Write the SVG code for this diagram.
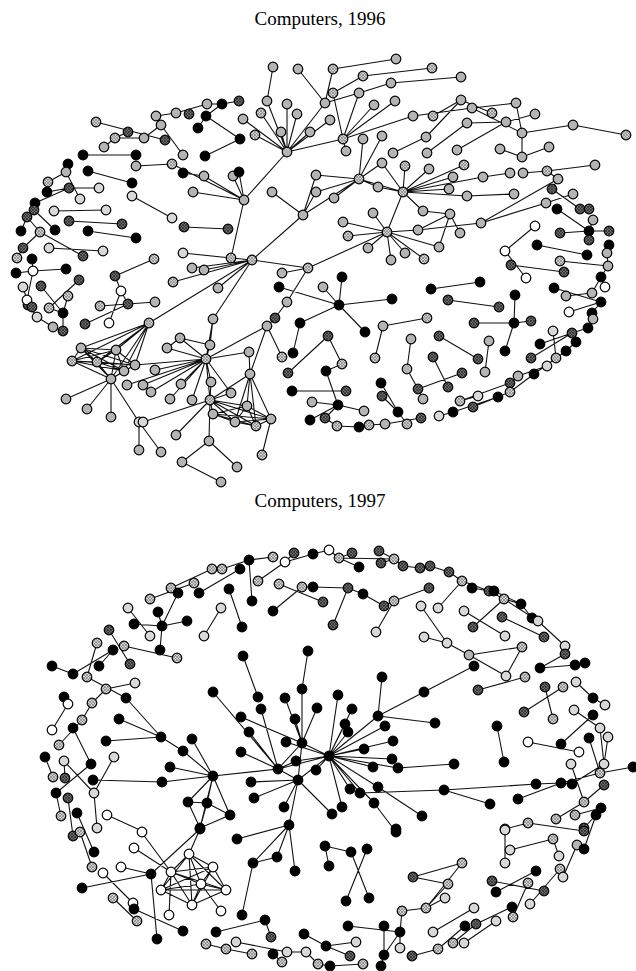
<svg xmlns="http://www.w3.org/2000/svg" width="636" height="971" viewBox="0 0 636 971">
<defs>
<pattern id="ph" width="3" height="3" patternUnits="userSpaceOnUse"><rect width="3" height="3" fill="#d2d2d2"/><path d="M0 3L3 0M0 0L3 3" stroke="#707070" stroke-width="0.6"/></pattern>
<pattern id="pd" width="3" height="3" patternUnits="userSpaceOnUse"><rect width="3" height="3" fill="#6a6a6a"/><path d="M0 3L3 0M0 0L3 3" stroke="#262626" stroke-width="0.7"/></pattern>
</defs>
<style>
circle{stroke:#000;stroke-width:1.2}
.g circle{fill:#b4b4b4}.h circle{fill:url(#ph)}.d circle{fill:url(#pd)}.k circle{fill:#000}.w circle{fill:#fff}.l circle{fill:#d8d8d8}
.e{fill:none;stroke:#111;stroke-width:1.1}
.t{font-family:"Liberation Serif","Times New Roman",serif;font-size:19px;fill:#000}
</style>
<rect width="636" height="971" fill="#fff"/>
<text class="t" x="320" y="25" text-anchor="middle">Computers, 1996</text>
<text class="t" x="320" y="507" text-anchor="middle">Computers, 1997</text>
<g id="connectors">
<path class="e" d="M273 67L267 101M267 101L287 152M298 69L325 103M333 69L325 103M333 69L396 59M325 103L287 152M325 103L359 93M333 93L363 76M363 76L432 68M333 93L343 139M359 93L391 83M391 83L461 77M359 93L343 139M287 152L243 119M287 152L261 113M287 152L255 135M287 152L281 132M287 152L287 104M287 152L297 114M287 152L310 132M287 152L330 120M287 152L343 139M343 139L374 105M343 139L395 101M343 139L413 116M343 139L346 151M413 116L472 108M433 116L461 100M426 137L461 100M426 137L393 153M427 153L467 123M472 108L516 103M472 108L522 133M467 123L506 122M506 122L535 114M461 100L492 113M522 133L573 125M573 125L626 135M516 103L522 133M522 133L522 157M500 149L522 157M522 157L549 147M457 150L506 122M363 139L359 179M382 136L359 179M359 179L316 175M359 179L334 198M359 179L382 163M359 179L378 187M359 179L403 192M359 179L316 192M359 179L303 215M303 215L252 260M303 215L272 192M303 215L316 175M303 215L316 192M403 192L405 166M403 192L429 169M403 192L464 165M403 192L453 177M403 192L449 189M403 192L467 196M403 192L378 187M403 192L423 211M403 192L387 232M403 192L483 177M403 192L382 163M483 177L510 173M523 173L547 171M547 171L595 165M547 171L558 179M558 179L552 189M552 189L580 209M580 209L589 209M467 196L514 194M481 223L546 203M546 203L573 194M418 230L481 223M481 223L558 179M387 232L343 222M387 232L348 236M387 232L368 248M387 232L391 260M387 232L405 253M387 232L424 259M387 232L373 213M387 232L418 230M387 232L439 247M387 232L308 268M423 211L450 214M450 214L439 247M450 214L460 233M418 230L450 214M535 226L505 251M505 251L526 278M511 265L564 272M537 245L587 255M560 233L589 231M589 231L609 231M589 231L593 220M589 240L589 231M557 209L589 231M609 245L607 253M607 253L608 266M608 266L601 277M560 261L608 266M554 288L601 302M566 296L592 293M592 293L601 277M569 312L601 302M601 302L592 313M592 313L593 319M593 319L588 328M588 328L572 333M572 333L540 344M572 333L531 358M553 331L556 358M547 366L518 376M518 376L510 383M510 383L460 401M498 397L453 412M473 407L510 392M510 392L534 374M534 374L566 351M566 351L576 342M439 416L453 412M339 305L392 299M339 305L365 332M339 305L342 277M339 305L323 287M339 305L300 323M300 323L293 353M275 318L287 302M275 318L267 326M328 336L342 364M342 364L326 371M326 371L338 405M338 405L364 411M338 405L325 418M338 405L312 402M288 373L328 336M310 420L338 405M292 391L346 391M381 383L398 412M382 396L398 412M398 412L407 424M325 418L337 426M337 426L359 427M359 427L369 425M369 425L385 424M385 424L421 418M383 326L427 318M383 326L375 358M411 339L407 369M407 369L418 389M418 389L462 373M418 389L423 399M433 357L448 387M439 336L478 359M489 341L485 372M474 323L514 323M514 323L531 321M514 323L505 351M514 323L515 295M448 300L499 307M431 289L480 282M279 287L339 305M308 268L282 273M308 268L287 302M252 260L308 268M96 122L165 140M156 116L176 113M176 113L207 104M207 104L222 104M222 104L239 101M222 104L206 116M206 116L240 139M161 125L156 116M161 125L183 155M161 125L144 138M144 138L115 138M128 132L115 138M115 138L104 147M83 155L136 155M240 139L205 156M68 164L66 172M66 172L80 199M66 172L48 182M69 188L99 188M69 188L35 203M88 171L132 183M34 210L55 230M54 211L106 210M69 221L122 224M88 231L136 238M40 232L83 256M40 232L23 248M49 248L103 251M16 273L33 271M33 271L66 269M33 271L27 300M41 286L63 313M79 280L49 308M68 296L63 313M132 196L172 218M184 227L228 229M154 259L115 276M115 276L121 291M121 291L128 304M100 306L128 304M128 304L155 302M85 324L128 304M109 323L121 291M183 253L231 258M231 258L244 200M231 258L252 260M252 260L192 268M252 260L204 270M252 260L173 282M252 260L218 288M252 260L213 319M252 260L149 323M244 200L287 152M244 200L193 192M244 200L204 176M244 200L233 176M244 200L172 164M183 173L204 176M136 166L172 164M28 305L37 317M37 317L53 327M49 308L63 313M149 323L111 379M149 323L81 348M149 323L72 361M149 323L97 362M149 323L116 350M149 323L135 365M149 323L124 371M81 348L72 361M81 348L97 362M81 348L116 350M81 348L135 365M81 348L124 371M72 361L97 362M72 361L116 350M72 361L135 365M72 361L124 371M97 362L116 350M97 362L135 365M97 362L124 371M116 350L135 365M116 350L124 371M135 365L124 371M111 379L81 348M111 379L72 361M111 379L97 362M111 379L116 350M111 379L135 365M111 379L124 371M111 379L66 399M111 379L87 409M111 379L111 417M111 379L139 422M139 422L139 450M139 422L161 452M143 422L210 400M206 359L213 319M206 359L180 338M206 359L167 348M206 359L210 345M206 359L155 370M206 359L127 385M206 359L143 385M206 359L151 392M206 359L181 384M206 359L192 400M206 359L170 399M206 359L211 382M206 359L210 400M206 359L231 393M206 359L249 352M206 359L267 326M206 359L135 365M213 319L210 345M180 338L210 345M167 348L180 338M210 400L211 382M210 400L176 435M210 400L209 441M210 400L250 374M210 400L213 414M210 400L235 422M210 400L256 426M210 400L271 419M210 400L247 406M210 400L231 393M213 414L235 422M213 414L256 426M213 414L271 419M213 414L247 406M235 422L256 426M235 422L271 419M235 422L247 406M256 426L271 419M256 426L247 406M271 419L247 406M250 374L267 326M250 374L249 352M250 374L271 419M250 374L247 406M250 374L256 426M250 374L235 422M271 419L262 455M209 441L182 462M209 441L237 467M182 462L221 482M267 326L282 357M47 192L69 188M27 217L40 232M21 231L27 217M17 258L23 248M32 259L33 271M23 287L27 300M32 307L27 300M63 331L63 313M198 128L206 116M239 172L244 200M605 287L601 277M478 396L460 401"/>
<path class="e" d="M212 569L171 588M194 583L150 599M222 569L249 560M249 560L273 557M240 569L199 593M249 560L252 601M285 562L258 581M285 562L313 554M294 553L285 562M313 554L329 550M229 589L242 627M279 584L323 602M302 587L273 611M302 587L313 587M178 593L162 626M134 624L162 626M162 626L187 621M162 626L160 650M158 612L162 626M128 608L150 636M221 608L204 636M109 630L130 664M124 646L177 658M97 643L87 677M113 650L73 674M52 666L73 674M243 656L258 697M308 651L302 689M329 550L339 558M339 558L394 559M379 551L394 559M381 563L394 559M352 553L339 558M339 558L359 567M394 559L403 566M403 566L420 568M420 568L430 566M430 566L449 572M449 572L462 581M462 581L489 591M489 591L504 599M494 591L521 604M504 599L521 604M504 599L538 621M538 621L565 646M521 604L532 618M565 646L565 654M565 654L540 668M540 668L575 665M575 665L585 663M462 581L438 608M504 599L473 627M464 611L505 636M502 617L544 637M313 587L348 588M348 588L363 594M363 594L384 606M384 606L394 601M394 601L429 588M348 588L333 625M394 601L376 632M421 606L447 643M424 637L447 643M447 643L469 655M469 655L522 647M469 655L506 676M522 647L506 676M474 666L424 692M68 704L52 730M106 689L135 683M92 703L106 689M87 677L126 698M126 698L161 737M119 719L161 737M106 741L161 737M161 737L183 751M183 751L213 776M192 739L213 776M170 767L213 776M162 782L213 776M93 780L162 782M213 776L188 802M213 776L207 803M213 776L230 815M213 776L200 828M213 776L278 769M188 802L207 803M207 803L230 815M188 802L200 828M207 803L200 828M200 828L230 815M92 703L82 720M82 720L59 745M73 728L91 764M64 761L94 793M91 764L56 793M114 757L94 793M45 757L53 777M56 793L61 816M94 793L97 828M107 815L142 831M68 798L73 836M77 813L94 852M213 692L278 769M241 717L302 743M249 732L278 769M295 719L302 743M241 752L278 769M251 782L298 780M254 798L298 780M289 825L298 780M284 807L298 780M285 698L302 743M302 689L302 743M317 708L302 743M286 742L329 756M261 709L278 769M278 769L298 780M278 769L302 743M298 780L302 743M302 743L329 756M298 780L329 756M278 769L329 756M316 770L329 756M296 761L329 756M296 761L278 769M329 756L352 709M329 756L345 724M329 756L348 732M329 756L364 749M329 756L385 726M329 756L393 741M329 756L392 759M329 756L373 767M329 756L398 768M329 756L378 787M329 756L350 789M329 756L360 793M329 756L342 807M329 756L374 803M329 756L338 695M329 756L378 716M378 716L424 692M378 716L382 677M378 716L435 723M398 768L454 764M360 793L444 790M444 790L536 784M536 784L561 783M561 783L572 784M561 783L600 773M600 773L633 767M572 784L604 764M444 790L490 804M518 799L561 783M497 726L504 762M528 742L579 752M561 744L593 715M574 710L600 728M545 687L553 719M524 712L563 687M593 698L576 682M593 698L605 705M600 728L604 764M589 738L600 773M571 764L584 802M584 802L604 785M601 808L596 815M556 819L584 802M596 815L584 849M505 830L505 863M528 823L584 831M553 839L559 856M553 839L510 850M577 845L563 877M560 869L530 904M536 871L496 892M492 881L544 891M528 883L513 917M512 907L476 924M496 921L464 943M474 908L433 932M412 956L438 949M438 949L465 926M453 943L476 924M402 911L426 908M426 908L445 898M413 877L462 863M413 877L448 884M462 863L426 908M448 884L426 908M402 911L400 932M400 932L400 948M348 926L400 932M384 926L384 955M400 932L384 955M325 846L351 852M351 852L369 898M367 849L346 901M326 946L356 942M330 966L363 964M396 832L374 803M289 825L237 839M289 825L253 863M289 825L277 857M289 825L295 871M253 863L277 857M253 863L242 915M216 932L265 920M265 920L271 937M206 944L226 949M226 949L252 954M236 942L287 952M287 952L306 952M273 954L282 962M80 832L92 867M142 833L171 872M134 848L171 872M121 867L151 874M151 874L200 829M151 874L157 939M82 888L151 874M103 873L133 903M133 903L134 909M134 909L183 931M113 898L137 921M200 829L189 854M189 854L171 872M189 854L213 867M189 854L201 884M189 854L161 890M189 854L226 890M189 854L192 905M171 872L213 867M171 872L201 884M171 872L161 890M171 872L226 890M171 872L192 905M213 867L201 884M213 867L161 890M213 867L226 890M213 867L192 905M201 884L161 890M201 884L226 890M201 884L192 905M161 890L226 890M161 890L192 905M226 890L192 905M171 872L169 915M201 884L221 911M64 697L68 704M65 778L64 761M99 666L113 650M472 588L489 591M478 690L525 677M608 737L604 764M575 815L601 808M584 828L596 815M505 829L528 823M381 966L384 955M350 956L326 946M318 964L330 966M304 934L326 946M306 952L318 964M329 866L325 846M422 816L378 787M332 814L298 780"/>
</g>
<g id="nodes96">
<g id="t1" class="g"><circle cx="273" cy="67" r="4.8"/></g>
<g id="t2" class="g"><circle cx="298" cy="69" r="4.8"/></g>
<g id="t3" class="h"><circle cx="333" cy="69" r="4.8"/></g>
<g id="t4" class="g"><circle cx="396" cy="59" r="4.8"/></g>
<g id="t5" class="h"><circle cx="432" cy="68" r="4.8"/></g>
<g id="t6" class="h"><circle cx="363" cy="76" r="4.8"/></g>
<g id="t7" class="h"><circle cx="333" cy="93" r="4.8"/></g>
<g id="t8" class="g"><circle cx="359" cy="93" r="4.8"/></g>
<g id="t9" class="g"><circle cx="391" cy="83" r="4.8"/></g>
<g id="t10" class="g"><circle cx="461" cy="77" r="4.8"/></g>
<g id="t11" class="g"><circle cx="325" cy="103" r="4.8"/></g>
<g id="t12" class="g"><circle cx="267" cy="101" r="4.8"/></g>
<g id="t13" class="g"><circle cx="287" cy="104" r="4.8"/></g>
<g id="t14" class="g"><circle cx="297" cy="114" r="4.8"/></g>
<g id="t15" class="h"><circle cx="261" cy="113" r="4.8"/></g>
<g id="t16" class="g"><circle cx="243" cy="119" r="4.8"/></g>
<g id="t17" class="h"><circle cx="255" cy="135" r="4.8"/></g>
<g id="t18" class="g"><circle cx="281" cy="132" r="4.8"/></g>
<g id="t19" class="g"><circle cx="310" cy="132" r="4.8"/></g>
<g id="t20" class="g"><circle cx="330" cy="120" r="4.8"/></g>
<g id="t21" class="g"><circle cx="287" cy="152" r="4.8"/></g>
<g id="t22" class="h"><circle cx="343" cy="139" r="4.8"/></g>
<g id="t23" class="g"><circle cx="374" cy="105" r="4.8"/></g>
<g id="t24" class="g"><circle cx="395" cy="101" r="4.8"/></g>
<g id="t25" class="g"><circle cx="413" cy="116" r="4.8"/></g>
<g id="t26" class="g"><circle cx="346" cy="151" r="4.8"/></g>
<g id="t27" class="g"><circle cx="363" cy="139" r="4.8"/></g>
<g id="t28" class="g"><circle cx="382" cy="136" r="4.8"/></g>
<g id="t29" class="h"><circle cx="433" cy="116" r="4.8"/></g>
<g id="t30" class="g"><circle cx="461" cy="100" r="4.8"/></g>
<g id="t31" class="g"><circle cx="472" cy="108" r="4.8"/></g>
<g id="t32" class="h"><circle cx="492" cy="113" r="4.8"/></g>
<g id="t33" class="g"><circle cx="516" cy="103" r="4.8"/></g>
<g id="t34" class="g"><circle cx="535" cy="114" r="4.8"/></g>
<g id="t35" class="g"><circle cx="522" cy="133" r="4.8"/></g>
<g id="t36" class="g"><circle cx="573" cy="125" r="4.8"/></g>
<g id="t37" class="h"><circle cx="626" cy="135" r="4.8"/></g>
<g id="t38" class="g"><circle cx="506" cy="122" r="4.8"/></g>
<g id="t39" class="g"><circle cx="467" cy="123" r="4.8"/></g>
<g id="t40" class="g"><circle cx="426" cy="137" r="4.8"/></g>
<g id="t41" class="g"><circle cx="457" cy="150" r="4.8"/></g>
<g id="t42" class="g"><circle cx="500" cy="149" r="4.8"/></g>
<g id="t43" class="g"><circle cx="522" cy="157" r="4.8"/></g>
<g id="t44" class="g"><circle cx="549" cy="147" r="4.8"/></g>
<g id="t45" class="g"><circle cx="393" cy="153" r="4.8"/></g>
<g id="t46" class="g"><circle cx="427" cy="153" r="4.8"/></g>
<g id="t47" class="g"><circle cx="382" cy="163" r="4.8"/></g>
<g id="t48" class="g"><circle cx="316" cy="175" r="4.8"/></g>
<g id="t49" class="h"><circle cx="359" cy="179" r="4.8"/></g>
<g id="t50" class="h"><circle cx="405" cy="166" r="4.8"/></g>
<g id="t51" class="g"><circle cx="429" cy="169" r="4.8"/></g>
<g id="t52" class="h"><circle cx="464" cy="165" r="4.8"/></g>
<g id="t53" class="g"><circle cx="453" cy="177" r="4.8"/></g>
<g id="t54" class="g"><circle cx="483" cy="177" r="4.8"/></g>
<g id="t55" class="g"><circle cx="510" cy="173" r="4.8"/></g>
<g id="t56" class="g"><circle cx="523" cy="173" r="4.8"/></g>
<g id="t57" class="h"><circle cx="547" cy="171" r="4.8"/></g>
<g id="t58" class="g"><circle cx="595" cy="165" r="4.8"/></g>
<g id="t59" class="g"><circle cx="558" cy="179" r="4.8"/></g>
<g id="t60" class="g"><circle cx="378" cy="187" r="4.8"/></g>
<g id="t61" class="h"><circle cx="403" cy="192" r="4.8"/></g>
<g id="t62" class="g"><circle cx="449" cy="189" r="4.8"/></g>
<g id="t63" class="g"><circle cx="467" cy="196" r="4.8"/></g>
<g id="t64" class="g"><circle cx="514" cy="194" r="4.8"/></g>
<g id="t65" class="g"><circle cx="573" cy="194" r="4.8"/></g>
<g id="t66" class="d"><circle cx="552" cy="189" r="4.8"/></g>
<g id="t67" class="g"><circle cx="334" cy="198" r="4.8"/></g>
<g id="t68" class="g"><circle cx="316" cy="192" r="4.8"/></g>
<g id="t69" class="g"><circle cx="373" cy="213" r="4.8"/></g>
<g id="t70" class="g"><circle cx="423" cy="211" r="4.8"/></g>
<g id="t71" class="g"><circle cx="450" cy="214" r="4.8"/></g>
<g id="t72" class="g"><circle cx="546" cy="203" r="4.8"/></g>
<g id="t73" class="k"><circle cx="557" cy="209" r="4.8"/></g>
<g id="t74" class="d"><circle cx="580" cy="209" r="4.8"/></g>
<g id="t75" class="d"><circle cx="589" cy="209" r="4.8"/></g>
<g id="t76" class="g"><circle cx="593" cy="220" r="4.8"/></g>
<g id="t77" class="g"><circle cx="343" cy="222" r="4.8"/></g>
<g id="t78" class="h"><circle cx="348" cy="236" r="4.8"/></g>
<g id="t79" class="h"><circle cx="387" cy="232" r="4.8"/></g>
<g id="t80" class="g"><circle cx="418" cy="230" r="4.8"/></g>
<g id="t81" class="g"><circle cx="460" cy="233" r="4.8"/></g>
<g id="t82" class="g"><circle cx="481" cy="223" r="4.8"/></g>
<g id="t83" class="g"><circle cx="368" cy="248" r="4.8"/></g>
<g id="t84" class="g"><circle cx="391" cy="260" r="4.8"/></g>
<g id="t85" class="g"><circle cx="405" cy="253" r="4.8"/></g>
<g id="t86" class="h"><circle cx="424" cy="259" r="4.8"/></g>
<g id="t87" class="g"><circle cx="439" cy="247" r="4.8"/></g>
<g id="t88" class="w"><circle cx="535" cy="226" r="4.8"/></g>
<g id="t89" class="w"><circle cx="505" cy="251" r="4.8"/></g>
<g id="t90" class="k"><circle cx="537" cy="245" r="4.8"/></g>
<g id="t91" class="k"><circle cx="587" cy="255" r="4.8"/></g>
<g id="t92" class="d"><circle cx="560" cy="233" r="4.8"/></g>
<g id="t93" class="k"><circle cx="589" cy="231" r="4.8"/></g>
<g id="t94" class="d"><circle cx="609" cy="231" r="4.8"/></g>
<g id="t95" class="d"><circle cx="589" cy="240" r="4.8"/></g>
<g id="t96" class="k"><circle cx="609" cy="245" r="4.8"/></g>
<g id="t97" class="g"><circle cx="607" cy="253" r="4.8"/></g>
<g id="t98" class="h"><circle cx="560" cy="261" r="4.8"/></g>
<g id="t99" class="d"><circle cx="564" cy="272" r="4.8"/></g>
<g id="t100" class="d"><circle cx="511" cy="265" r="4.8"/></g>
<g id="t101" class="w"><circle cx="526" cy="278" r="4.8"/></g>
<g id="t102" class="g"><circle cx="608" cy="266" r="4.8"/></g>
<g id="t103" class="k"><circle cx="601" cy="277" r="4.8"/></g>
<g id="t104" class="w"><circle cx="605" cy="287" r="4.8"/></g>
<g id="t105" class="k"><circle cx="554" cy="288" r="4.8"/></g>
<g id="t106" class="g"><circle cx="566" cy="296" r="4.8"/></g>
<g id="t107" class="g"><circle cx="592" cy="293" r="4.8"/></g>
<g id="t108" class="k"><circle cx="601" cy="302" r="4.8"/></g>
<g id="t109" class="w"><circle cx="569" cy="312" r="4.8"/></g>
<g id="t110" class="k"><circle cx="592" cy="313" r="4.8"/></g>
<g id="t111" class="g"><circle cx="593" cy="319" r="4.8"/></g>
<g id="t112" class="k"><circle cx="342" cy="277" r="4.8"/></g>
<g id="t113" class="g"><circle cx="323" cy="287" r="4.8"/></g>
<g id="t114" class="k"><circle cx="339" cy="305" r="4.8"/></g>
<g id="t115" class="k"><circle cx="392" cy="299" r="4.8"/></g>
<g id="t116" class="k"><circle cx="431" cy="289" r="4.8"/></g>
<g id="t117" class="k"><circle cx="480" cy="282" r="4.8"/></g>
<g id="t118" class="d"><circle cx="448" cy="300" r="4.8"/></g>
<g id="t119" class="d"><circle cx="499" cy="307" r="4.8"/></g>
<g id="t120" class="k"><circle cx="515" cy="295" r="4.8"/></g>
<g id="t121" class="h"><circle cx="427" cy="318" r="4.8"/></g>
<g id="t122" class="k"><circle cx="365" cy="332" r="4.8"/></g>
<g id="t123" class="d"><circle cx="328" cy="336" r="4.8"/></g>
<g id="t124" class="h"><circle cx="342" cy="364" r="4.8"/></g>
<g id="t125" class="k"><circle cx="326" cy="371" r="4.8"/></g>
<g id="t126" class="d"><circle cx="346" cy="391" r="4.8"/></g>
<g id="t127" class="k"><circle cx="338" cy="405" r="4.8"/></g>
<g id="t128" class="g"><circle cx="364" cy="411" r="4.8"/></g>
<g id="t129" class="d"><circle cx="325" cy="418" r="4.8"/></g>
<g id="t130" class="h"><circle cx="337" cy="426" r="4.8"/></g>
<g id="t131" class="k"><circle cx="359" cy="427" r="4.8"/></g>
<g id="t132" class="h"><circle cx="369" cy="425" r="4.8"/></g>
<g id="t133" class="g"><circle cx="385" cy="424" r="4.8"/></g>
<g id="t134" class="h"><circle cx="407" cy="424" r="4.8"/></g>
<g id="t135" class="d"><circle cx="421" cy="418" r="4.8"/></g>
<g id="t136" class="k"><circle cx="398" cy="412" r="4.8"/></g>
<g id="t137" class="k"><circle cx="381" cy="383" r="4.8"/></g>
<g id="t138" class="d"><circle cx="382" cy="396" r="4.8"/></g>
<g id="t139" class="g"><circle cx="383" cy="326" r="4.8"/></g>
<g id="t140" class="h"><circle cx="375" cy="358" r="4.8"/></g>
<g id="t141" class="g"><circle cx="411" cy="339" r="4.8"/></g>
<g id="t142" class="g"><circle cx="407" cy="369" r="4.8"/></g>
<g id="t143" class="d"><circle cx="418" cy="389" r="4.8"/></g>
<g id="t144" class="g"><circle cx="423" cy="399" r="4.8"/></g>
<g id="t145" class="d"><circle cx="433" cy="357" r="4.8"/></g>
<g id="t146" class="d"><circle cx="448" cy="387" r="4.8"/></g>
<g id="t147" class="d"><circle cx="462" cy="373" r="4.8"/></g>
<g id="t148" class="d"><circle cx="439" cy="336" r="4.8"/></g>
<g id="t149" class="d"><circle cx="478" cy="359" r="4.8"/></g>
<g id="t150" class="g"><circle cx="489" cy="341" r="4.8"/></g>
<g id="t151" class="g"><circle cx="485" cy="372" r="4.8"/></g>
<g id="t152" class="d"><circle cx="474" cy="323" r="4.8"/></g>
<g id="t153" class="k"><circle cx="514" cy="323" r="4.8"/></g>
<g id="t154" class="d"><circle cx="531" cy="321" r="4.8"/></g>
<g id="t155" class="k"><circle cx="505" cy="351" r="4.8"/></g>
<g id="t156" class="l"><circle cx="439" cy="416" r="4.8"/></g>
<g id="t157" class="k"><circle cx="453" cy="412" r="4.8"/></g>
<g id="t158" class="h"><circle cx="460" cy="401" r="4.8"/></g>
<g id="t159" class="d"><circle cx="473" cy="407" r="4.8"/></g>
<g id="t160" class="l"><circle cx="478" cy="396" r="4.8"/></g>
<g id="t161" class="k"><circle cx="498" cy="397" r="4.8"/></g>
<g id="t162" class="d"><circle cx="510" cy="383" r="4.8"/></g>
<g id="t163" class="h"><circle cx="510" cy="392" r="4.8"/></g>
<g id="t164" class="g"><circle cx="518" cy="376" r="4.8"/></g>
<g id="t165" class="k"><circle cx="534" cy="374" r="4.8"/></g>
<g id="t166" class="l"><circle cx="547" cy="366" r="4.8"/></g>
<g id="t167" class="h"><circle cx="556" cy="358" r="4.8"/></g>
<g id="t168" class="k"><circle cx="566" cy="351" r="4.8"/></g>
<g id="t169" class="k"><circle cx="576" cy="342" r="4.8"/></g>
<g id="t170" class="d"><circle cx="572" cy="333" r="4.8"/></g>
<g id="t171" class="l"><circle cx="553" cy="331" r="4.8"/></g>
<g id="t172" class="k"><circle cx="540" cy="344" r="4.8"/></g>
<g id="t173" class="d"><circle cx="531" cy="358" r="4.8"/></g>
<g id="t174" class="k"><circle cx="588" cy="328" r="4.8"/></g>
<g id="t175" class="d"><circle cx="28" cy="305" r="4.8"/></g>
<g id="t176" class="h"><circle cx="49" cy="308" r="4.8"/></g>
<g id="t177" class="l"><circle cx="37" cy="317" r="4.8"/></g>
<g id="t178" class="k"><circle cx="63" cy="313" r="4.8"/></g>
<g id="t179" class="g"><circle cx="53" cy="327" r="4.8"/></g>
<g id="t180" class="d"><circle cx="63" cy="331" r="4.8"/></g>
<g id="t181" class="h"><circle cx="100" cy="306" r="4.8"/></g>
<g id="t182" class="d"><circle cx="128" cy="304" r="4.8"/></g>
<g id="t183" class="g"><circle cx="155" cy="302" r="4.8"/></g>
<g id="t184" class="d"><circle cx="85" cy="324" r="4.8"/></g>
<g id="t185" class="w"><circle cx="109" cy="323" r="4.8"/></g>
<g id="t186" class="h"><circle cx="149" cy="323" r="4.8"/></g>
<g id="t187" class="g"><circle cx="81" cy="348" r="4.8"/></g>
<g id="t188" class="h"><circle cx="72" cy="361" r="4.8"/></g>
<g id="t189" class="h"><circle cx="97" cy="362" r="4.8"/></g>
<g id="t190" class="g"><circle cx="116" cy="350" r="4.8"/></g>
<g id="t191" class="g"><circle cx="135" cy="365" r="4.8"/></g>
<g id="t192" class="g"><circle cx="124" cy="371" r="4.8"/></g>
<g id="t193" class="g"><circle cx="111" cy="379" r="4.8"/></g>
<g id="t194" class="g"><circle cx="66" cy="399" r="4.8"/></g>
<g id="t195" class="g"><circle cx="87" cy="409" r="4.8"/></g>
<g id="t196" class="g"><circle cx="111" cy="417" r="4.8"/></g>
<g id="t197" class="l"><circle cx="139" cy="422" r="4.8"/></g>
<g id="t198" class="l"><circle cx="143" cy="422" r="4.8"/></g>
<g id="t199" class="g"><circle cx="139" cy="450" r="4.8"/></g>
<g id="t200" class="g"><circle cx="161" cy="452" r="4.8"/></g>
<g id="t201" class="g"><circle cx="213" cy="319" r="4.8"/></g>
<g id="t202" class="h"><circle cx="180" cy="338" r="4.8"/></g>
<g id="t203" class="g"><circle cx="167" cy="348" r="4.8"/></g>
<g id="t204" class="g"><circle cx="210" cy="345" r="4.8"/></g>
<g id="t205" class="h"><circle cx="206" cy="359" r="4.8"/></g>
<g id="t206" class="g"><circle cx="155" cy="370" r="4.8"/></g>
<g id="t207" class="g"><circle cx="127" cy="385" r="4.8"/></g>
<g id="t208" class="g"><circle cx="143" cy="385" r="4.8"/></g>
<g id="t209" class="g"><circle cx="151" cy="392" r="4.8"/></g>
<g id="t210" class="g"><circle cx="181" cy="384" r="4.8"/></g>
<g id="t211" class="g"><circle cx="170" cy="399" r="4.8"/></g>
<g id="t212" class="g"><circle cx="192" cy="400" r="4.8"/></g>
<g id="t213" class="g"><circle cx="211" cy="382" r="4.8"/></g>
<g id="t214" class="h"><circle cx="210" cy="400" r="4.8"/></g>
<g id="t215" class="g"><circle cx="231" cy="393" r="4.8"/></g>
<g id="t216" class="g"><circle cx="249" cy="352" r="4.8"/></g>
<g id="t217" class="g"><circle cx="267" cy="326" r="4.8"/></g>
<g id="t218" class="g"><circle cx="250" cy="374" r="4.8"/></g>
<g id="t219" class="g"><circle cx="247" cy="406" r="4.8"/></g>
<g id="t220" class="g"><circle cx="213" cy="414" r="4.8"/></g>
<g id="t221" class="g"><circle cx="235" cy="422" r="4.8"/></g>
<g id="t222" class="h"><circle cx="256" cy="426" r="4.8"/></g>
<g id="t223" class="g"><circle cx="271" cy="419" r="4.8"/></g>
<g id="t224" class="h"><circle cx="282" cy="357" r="4.8"/></g>
<g id="t225" class="g"><circle cx="176" cy="435" r="4.8"/></g>
<g id="t226" class="g"><circle cx="209" cy="441" r="4.8"/></g>
<g id="t227" class="g"><circle cx="182" cy="462" r="4.8"/></g>
<g id="t228" class="g"><circle cx="237" cy="467" r="4.8"/></g>
<g id="t229" class="g"><circle cx="221" cy="482" r="4.8"/></g>
<g id="t230" class="h"><circle cx="262" cy="455" r="4.8"/></g>
<g id="t231" class="d"><circle cx="275" cy="318" r="4.8"/></g>
<g id="t232" class="g"><circle cx="287" cy="302" r="4.8"/></g>
<g id="t233" class="k"><circle cx="300" cy="323" r="4.8"/></g>
<g id="t234" class="k"><circle cx="293" cy="353" r="4.8"/></g>
<g id="t235" class="d"><circle cx="288" cy="373" r="4.8"/></g>
<g id="t236" class="k"><circle cx="292" cy="391" r="4.8"/></g>
<g id="t237" class="g"><circle cx="312" cy="402" r="4.8"/></g>
<g id="t238" class="k"><circle cx="310" cy="420" r="4.8"/></g>
<g id="t239" class="k"><circle cx="68" cy="164" r="4.8"/></g>
<g id="t240" class="g"><circle cx="66" cy="172" r="4.8"/></g>
<g id="t241" class="h"><circle cx="48" cy="182" r="4.8"/></g>
<g id="t242" class="k"><circle cx="47" cy="192" r="4.8"/></g>
<g id="t243" class="d"><circle cx="69" cy="188" r="4.8"/></g>
<g id="t244" class="l"><circle cx="80" cy="199" r="4.8"/></g>
<g id="t245" class="l"><circle cx="99" cy="188" r="4.8"/></g>
<g id="t246" class="k"><circle cx="88" cy="171" r="4.8"/></g>
<g id="t247" class="k"><circle cx="132" cy="183" r="4.8"/></g>
<g id="t248" class="k"><circle cx="35" cy="203" r="4.8"/></g>
<g id="t249" class="d"><circle cx="34" cy="210" r="4.8"/></g>
<g id="t250" class="d"><circle cx="27" cy="217" r="4.8"/></g>
<g id="t251" class="k"><circle cx="55" cy="230" r="4.8"/></g>
<g id="t252" class="l"><circle cx="54" cy="211" r="4.8"/></g>
<g id="t253" class="l"><circle cx="106" cy="210" r="4.8"/></g>
<g id="t254" class="d"><circle cx="69" cy="221" r="4.8"/></g>
<g id="t255" class="d"><circle cx="122" cy="224" r="4.8"/></g>
<g id="t256" class="k"><circle cx="88" cy="231" r="4.8"/></g>
<g id="t257" class="k"><circle cx="136" cy="238" r="4.8"/></g>
<g id="t258" class="k"><circle cx="21" cy="231" r="4.8"/></g>
<g id="t259" class="h"><circle cx="40" cy="232" r="4.8"/></g>
<g id="t260" class="d"><circle cx="23" cy="248" r="4.8"/></g>
<g id="t261" class="h"><circle cx="17" cy="258" r="4.8"/></g>
<g id="t262" class="k"><circle cx="32" cy="259" r="4.8"/></g>
<g id="t263" class="l"><circle cx="49" cy="248" r="4.8"/></g>
<g id="t264" class="l"><circle cx="103" cy="251" r="4.8"/></g>
<g id="t265" class="d"><circle cx="83" cy="256" r="4.8"/></g>
<g id="t266" class="k"><circle cx="16" cy="273" r="4.8"/></g>
<g id="t267" class="w"><circle cx="33" cy="271" r="4.8"/></g>
<g id="t268" class="k"><circle cx="66" cy="269" r="4.8"/></g>
<g id="t269" class="l"><circle cx="23" cy="287" r="4.8"/></g>
<g id="t270" class="d"><circle cx="41" cy="286" r="4.8"/></g>
<g id="t271" class="w"><circle cx="27" cy="300" r="4.8"/></g>
<g id="t272" class="d"><circle cx="32" cy="307" r="4.8"/></g>
<g id="t273" class="h"><circle cx="68" cy="296" r="4.8"/></g>
<g id="t274" class="d"><circle cx="79" cy="280" r="4.8"/></g>
<g id="t275" class="l"><circle cx="132" cy="196" r="4.8"/></g>
<g id="t276" class="l"><circle cx="172" cy="218" r="4.8"/></g>
<g id="t277" class="d"><circle cx="184" cy="227" r="4.8"/></g>
<g id="t278" class="d"><circle cx="228" cy="229" r="4.8"/></g>
<g id="t279" class="h"><circle cx="154" cy="259" r="4.8"/></g>
<g id="t280" class="d"><circle cx="115" cy="276" r="4.8"/></g>
<g id="t281" class="w"><circle cx="121" cy="291" r="4.8"/></g>
<g id="t282" class="l"><circle cx="183" cy="253" r="4.8"/></g>
<g id="t283" class="h"><circle cx="231" cy="258" r="4.8"/></g>
<g id="t284" class="h"><circle cx="252" cy="260" r="4.8"/></g>
<g id="t285" class="g"><circle cx="192" cy="268" r="4.8"/></g>
<g id="t286" class="g"><circle cx="204" cy="270" r="4.8"/></g>
<g id="t287" class="h"><circle cx="173" cy="282" r="4.8"/></g>
<g id="t288" class="g"><circle cx="218" cy="288" r="4.8"/></g>
<g id="t289" class="g"><circle cx="244" cy="200" r="4.8"/></g>
<g id="t290" class="g"><circle cx="193" cy="192" r="4.8"/></g>
<g id="t291" class="h"><circle cx="172" cy="164" r="4.8"/></g>
<g id="t292" class="k"><circle cx="183" cy="173" r="4.8"/></g>
<g id="t293" class="g"><circle cx="204" cy="176" r="4.8"/></g>
<g id="t294" class="g"><circle cx="233" cy="176" r="4.8"/></g>
<g id="t295" class="k"><circle cx="239" cy="172" r="4.8"/></g>
<g id="t296" class="g"><circle cx="136" cy="166" r="4.8"/></g>
<g id="t297" class="g"><circle cx="272" cy="192" r="4.8"/></g>
<g id="t298" class="g"><circle cx="303" cy="215" r="4.8"/></g>
<g id="t299" class="h"><circle cx="308" cy="268" r="4.8"/></g>
<g id="t300" class="g"><circle cx="282" cy="273" r="4.8"/></g>
<g id="t301" class="k"><circle cx="279" cy="287" r="4.8"/></g>
<g id="t302" class="h"><circle cx="96" cy="122" r="4.8"/></g>
<g id="t303" class="g"><circle cx="161" cy="125" r="4.8"/></g>
<g id="t304" class="g"><circle cx="156" cy="116" r="4.8"/></g>
<g id="t305" class="g"><circle cx="176" cy="113" r="4.8"/></g>
<g id="t306" class="d"><circle cx="189" cy="114" r="4.8"/></g>
<g id="t307" class="g"><circle cx="207" cy="104" r="4.8"/></g>
<g id="t308" class="k"><circle cx="222" cy="104" r="4.8"/></g>
<g id="t309" class="d"><circle cx="239" cy="101" r="4.8"/></g>
<g id="t310" class="k"><circle cx="206" cy="116" r="4.8"/></g>
<g id="t311" class="k"><circle cx="198" cy="128" r="4.8"/></g>
<g id="t312" class="k"><circle cx="240" cy="139" r="4.8"/></g>
<g id="t313" class="k"><circle cx="205" cy="156" r="4.8"/></g>
<g id="t314" class="g"><circle cx="144" cy="138" r="4.8"/></g>
<g id="t315" class="d"><circle cx="165" cy="140" r="4.8"/></g>
<g id="t316" class="d"><circle cx="128" cy="132" r="4.8"/></g>
<g id="t317" class="h"><circle cx="115" cy="138" r="4.8"/></g>
<g id="t318" class="g"><circle cx="104" cy="147" r="4.8"/></g>
<g id="t319" class="k"><circle cx="83" cy="155" r="4.8"/></g>
<g id="t320" class="k"><circle cx="136" cy="155" r="4.8"/></g>
<g id="t321" class="g"><circle cx="183" cy="155" r="4.8"/></g>
</g>
<g id="nodes97">
<g id="b1" class="k"><circle cx="313" cy="554" r="4.8"/></g>
<g id="b2" class="d"><circle cx="294" cy="553" r="4.8"/></g>
<g id="b3" class="w"><circle cx="285" cy="562" r="4.8"/></g>
<g id="b4" class="h"><circle cx="273" cy="557" r="4.8"/></g>
<g id="b5" class="k"><circle cx="249" cy="560" r="4.8"/></g>
<g id="b6" class="k"><circle cx="240" cy="569" r="4.8"/></g>
<g id="b7" class="h"><circle cx="222" cy="569" r="4.8"/></g>
<g id="b8" class="h"><circle cx="212" cy="569" r="4.8"/></g>
<g id="b9" class="h"><circle cx="194" cy="583" r="4.8"/></g>
<g id="b10" class="h"><circle cx="171" cy="588" r="4.8"/></g>
<g id="b11" class="k"><circle cx="178" cy="593" r="4.8"/></g>
<g id="b12" class="h"><circle cx="150" cy="599" r="4.8"/></g>
<g id="b13" class="k"><circle cx="199" cy="593" r="4.8"/></g>
<g id="b14" class="h"><circle cx="258" cy="581" r="4.8"/></g>
<g id="b15" class="k"><circle cx="229" cy="589" r="4.8"/></g>
<g id="b16" class="k"><circle cx="252" cy="601" r="4.8"/></g>
<g id="b17" class="h"><circle cx="279" cy="584" r="4.8"/></g>
<g id="b18" class="h"><circle cx="302" cy="587" r="4.8"/></g>
<g id="b19" class="k"><circle cx="313" cy="587" r="4.8"/></g>
<g id="b20" class="k"><circle cx="273" cy="611" r="4.8"/></g>
<g id="b21" class="l"><circle cx="221" cy="608" r="4.8"/></g>
<g id="b22" class="l"><circle cx="204" cy="636" r="4.8"/></g>
<g id="b23" class="k"><circle cx="242" cy="627" r="4.8"/></g>
<g id="b24" class="l"><circle cx="128" cy="608" r="4.8"/></g>
<g id="b25" class="k"><circle cx="158" cy="612" r="4.8"/></g>
<g id="b26" class="k"><circle cx="134" cy="624" r="4.8"/></g>
<g id="b27" class="k"><circle cx="162" cy="626" r="4.8"/></g>
<g id="b28" class="k"><circle cx="187" cy="621" r="4.8"/></g>
<g id="b29" class="l"><circle cx="150" cy="636" r="4.8"/></g>
<g id="b30" class="k"><circle cx="160" cy="650" r="4.8"/></g>
<g id="b31" class="h"><circle cx="177" cy="658" r="4.8"/></g>
<g id="b32" class="h"><circle cx="124" cy="646" r="4.8"/></g>
<g id="b33" class="d"><circle cx="109" cy="630" r="4.8"/></g>
<g id="b34" class="d"><circle cx="130" cy="664" r="4.8"/></g>
<g id="b35" class="h"><circle cx="97" cy="643" r="4.8"/></g>
<g id="b36" class="k"><circle cx="113" cy="650" r="4.8"/></g>
<g id="b37" class="k"><circle cx="99" cy="666" r="4.8"/></g>
<g id="b38" class="k"><circle cx="73" cy="674" r="4.8"/></g>
<g id="b39" class="k"><circle cx="52" cy="666" r="4.8"/></g>
<g id="b40" class="h"><circle cx="87" cy="677" r="4.8"/></g>
<g id="b41" class="k"><circle cx="243" cy="656" r="4.8"/></g>
<g id="b42" class="k"><circle cx="308" cy="651" r="4.8"/></g>
<g id="b43" class="w"><circle cx="329" cy="550" r="4.8"/></g>
<g id="b44" class="h"><circle cx="339" cy="558" r="4.8"/></g>
<g id="b45" class="d"><circle cx="352" cy="553" r="4.8"/></g>
<g id="b46" class="k"><circle cx="359" cy="567" r="4.8"/></g>
<g id="b47" class="d"><circle cx="379" cy="551" r="4.8"/></g>
<g id="b48" class="d"><circle cx="381" cy="563" r="4.8"/></g>
<g id="b49" class="h"><circle cx="394" cy="559" r="4.8"/></g>
<g id="b50" class="d"><circle cx="403" cy="566" r="4.8"/></g>
<g id="b51" class="d"><circle cx="420" cy="568" r="4.8"/></g>
<g id="b52" class="d"><circle cx="430" cy="566" r="4.8"/></g>
<g id="b53" class="d"><circle cx="449" cy="572" r="4.8"/></g>
<g id="b54" class="h"><circle cx="462" cy="581" r="4.8"/></g>
<g id="b55" class="k"><circle cx="472" cy="588" r="4.8"/></g>
<g id="b56" class="d"><circle cx="489" cy="591" r="4.8"/></g>
<g id="b57" class="k"><circle cx="494" cy="591" r="4.8"/></g>
<g id="b58" class="h"><circle cx="504" cy="599" r="4.8"/></g>
<g id="b59" class="k"><circle cx="521" cy="604" r="4.8"/></g>
<g id="b60" class="k"><circle cx="532" cy="618" r="4.8"/></g>
<g id="b61" class="l"><circle cx="538" cy="621" r="4.8"/></g>
<g id="b62" class="l"><circle cx="565" cy="646" r="4.8"/></g>
<g id="b63" class="d"><circle cx="565" cy="654" r="4.8"/></g>
<g id="b64" class="k"><circle cx="575" cy="665" r="4.8"/></g>
<g id="b65" class="k"><circle cx="585" cy="663" r="4.8"/></g>
<g id="b66" class="k"><circle cx="540" cy="668" r="4.8"/></g>
<g id="b67" class="d"><circle cx="348" cy="588" r="4.8"/></g>
<g id="b68" class="k"><circle cx="363" cy="594" r="4.8"/></g>
<g id="b69" class="d"><circle cx="384" cy="606" r="4.8"/></g>
<g id="b70" class="h"><circle cx="394" cy="601" r="4.8"/></g>
<g id="b71" class="d"><circle cx="429" cy="588" r="4.8"/></g>
<g id="b72" class="d"><circle cx="323" cy="602" r="4.8"/></g>
<g id="b73" class="d"><circle cx="333" cy="625" r="4.8"/></g>
<g id="b74" class="l"><circle cx="376" cy="632" r="4.8"/></g>
<g id="b75" class="l"><circle cx="421" cy="606" r="4.8"/></g>
<g id="b76" class="l"><circle cx="438" cy="608" r="4.8"/></g>
<g id="b77" class="l"><circle cx="464" cy="611" r="4.8"/></g>
<g id="b78" class="d"><circle cx="473" cy="627" r="4.8"/></g>
<g id="b79" class="d"><circle cx="502" cy="617" r="4.8"/></g>
<g id="b80" class="l"><circle cx="505" cy="636" r="4.8"/></g>
<g id="b81" class="d"><circle cx="544" cy="637" r="4.8"/></g>
<g id="b82" class="l"><circle cx="424" cy="637" r="4.8"/></g>
<g id="b83" class="l"><circle cx="447" cy="643" r="4.8"/></g>
<g id="b84" class="g"><circle cx="469" cy="655" r="4.8"/></g>
<g id="b85" class="h"><circle cx="522" cy="647" r="4.8"/></g>
<g id="b86" class="k"><circle cx="474" cy="666" r="4.8"/></g>
<g id="b87" class="l"><circle cx="506" cy="676" r="4.8"/></g>
<g id="b88" class="h"><circle cx="525" cy="677" r="4.8"/></g>
<g id="b89" class="k"><circle cx="382" cy="677" r="4.8"/></g>
<g id="b90" class="l"><circle cx="576" cy="682" r="4.8"/></g>
<g id="b91" class="k"><circle cx="64" cy="697" r="4.8"/></g>
<g id="b92" class="w"><circle cx="68" cy="704" r="4.8"/></g>
<g id="b93" class="h"><circle cx="106" cy="689" r="4.8"/></g>
<g id="b94" class="l"><circle cx="135" cy="683" r="4.8"/></g>
<g id="b95" class="h"><circle cx="92" cy="703" r="4.8"/></g>
<g id="b96" class="h"><circle cx="82" cy="720" r="4.8"/></g>
<g id="b97" class="w"><circle cx="52" cy="730" r="4.8"/></g>
<g id="b98" class="k"><circle cx="73" cy="728" r="4.8"/></g>
<g id="b99" class="h"><circle cx="59" cy="745" r="4.8"/></g>
<g id="b100" class="k"><circle cx="45" cy="757" r="4.8"/></g>
<g id="b101" class="l"><circle cx="64" cy="761" r="4.8"/></g>
<g id="b102" class="k"><circle cx="91" cy="764" r="4.8"/></g>
<g id="b103" class="l"><circle cx="114" cy="757" r="4.8"/></g>
<g id="b104" class="h"><circle cx="53" cy="777" r="4.8"/></g>
<g id="b105" class="d"><circle cx="65" cy="778" r="4.8"/></g>
<g id="b106" class="k"><circle cx="56" cy="793" r="4.8"/></g>
<g id="b107" class="l"><circle cx="94" cy="793" r="4.8"/></g>
<g id="b108" class="k"><circle cx="93" cy="780" r="4.8"/></g>
<g id="b109" class="d"><circle cx="68" cy="798" r="4.8"/></g>
<g id="b110" class="h"><circle cx="61" cy="816" r="4.8"/></g>
<g id="b111" class="k"><circle cx="77" cy="813" r="4.8"/></g>
<g id="b112" class="w"><circle cx="107" cy="815" r="4.8"/></g>
<g id="b113" class="l"><circle cx="97" cy="828" r="4.8"/></g>
<g id="b114" class="w"><circle cx="142" cy="832" r="4.8"/></g>
<g id="b115" class="k"><circle cx="126" cy="698" r="4.8"/></g>
<g id="b116" class="k"><circle cx="119" cy="719" r="4.8"/></g>
<g id="b117" class="k"><circle cx="161" cy="737" r="4.8"/></g>
<g id="b118" class="k"><circle cx="106" cy="741" r="4.8"/></g>
<g id="b119" class="k"><circle cx="183" cy="751" r="4.8"/></g>
<g id="b120" class="k"><circle cx="192" cy="739" r="4.8"/></g>
<g id="b121" class="k"><circle cx="170" cy="767" r="4.8"/></g>
<g id="b122" class="k"><circle cx="162" cy="782" r="4.8"/></g>
<g id="b123" class="k"><circle cx="213" cy="776" r="4.8"/></g>
<g id="b124" class="k"><circle cx="188" cy="802" r="4.8"/></g>
<g id="b125" class="k"><circle cx="207" cy="803" r="4.8"/></g>
<g id="b126" class="k"><circle cx="230" cy="815" r="4.8"/></g>
<g id="b127" class="k"><circle cx="200" cy="828" r="4.8"/></g>
<g id="b128" class="k"><circle cx="213" cy="692" r="4.8"/></g>
<g id="b129" class="k"><circle cx="258" cy="697" r="4.8"/></g>
<g id="b130" class="k"><circle cx="261" cy="709" r="4.8"/></g>
<g id="b131" class="k"><circle cx="285" cy="698" r="4.8"/></g>
<g id="b132" class="k"><circle cx="302" cy="689" r="4.8"/></g>
<g id="b133" class="k"><circle cx="241" cy="717" r="4.8"/></g>
<g id="b134" class="k"><circle cx="249" cy="732" r="4.8"/></g>
<g id="b135" class="k"><circle cx="295" cy="719" r="4.8"/></g>
<g id="b136" class="k"><circle cx="286" cy="742" r="4.8"/></g>
<g id="b137" class="k"><circle cx="302" cy="743" r="4.8"/></g>
<g id="b138" class="k"><circle cx="317" cy="708" r="4.8"/></g>
<g id="b139" class="k"><circle cx="241" cy="752" r="4.8"/></g>
<g id="b140" class="k"><circle cx="296" cy="761" r="4.8"/></g>
<g id="b141" class="k"><circle cx="278" cy="769" r="4.8"/></g>
<g id="b142" class="k"><circle cx="316" cy="770" r="4.8"/></g>
<g id="b143" class="k"><circle cx="298" cy="780" r="4.8"/></g>
<g id="b144" class="k"><circle cx="251" cy="782" r="4.8"/></g>
<g id="b145" class="k"><circle cx="254" cy="798" r="4.8"/></g>
<g id="b146" class="k"><circle cx="284" cy="807" r="4.8"/></g>
<g id="b147" class="k"><circle cx="289" cy="825" r="4.8"/></g>
<g id="b148" class="k"><circle cx="338" cy="695" r="4.8"/></g>
<g id="b150" class="k"><circle cx="352" cy="709" r="4.8"/></g>
<g id="b151" class="k"><circle cx="378" cy="716" r="4.8"/></g>
<g id="b152" class="k"><circle cx="424" cy="692" r="4.8"/></g>
<g id="b153" class="k"><circle cx="435" cy="723" r="4.8"/></g>
<g id="b154" class="k"><circle cx="385" cy="726" r="4.8"/></g>
<g id="b155" class="k"><circle cx="393" cy="741" r="4.8"/></g>
<g id="b156" class="k"><circle cx="348" cy="732" r="4.8"/></g>
<g id="b157" class="k"><circle cx="345" cy="724" r="4.8"/></g>
<g id="b158" class="k"><circle cx="364" cy="749" r="4.8"/></g>
<g id="b159" class="k"><circle cx="329" cy="756" r="4.8"/></g>
<g id="b161" class="k"><circle cx="392" cy="759" r="4.8"/></g>
<g id="b162" class="k"><circle cx="373" cy="767" r="4.8"/></g>
<g id="b163" class="k"><circle cx="398" cy="768" r="4.8"/></g>
<g id="b164" class="k"><circle cx="454" cy="764" r="4.8"/></g>
<g id="b165" class="k"><circle cx="378" cy="787" r="4.8"/></g>
<g id="b166" class="k"><circle cx="350" cy="789" r="4.8"/></g>
<g id="b167" class="k"><circle cx="360" cy="793" r="4.8"/></g>
<g id="b168" class="k"><circle cx="444" cy="790" r="4.8"/></g>
<g id="b169" class="k"><circle cx="490" cy="804" r="4.8"/></g>
<g id="b170" class="k"><circle cx="374" cy="803" r="4.8"/></g>
<g id="b171" class="k"><circle cx="342" cy="807" r="4.8"/></g>
<g id="b172" class="k"><circle cx="332" cy="814" r="4.8"/></g>
<g id="b173" class="k"><circle cx="422" cy="816" r="4.8"/></g>
<g id="b174" class="k"><circle cx="396" cy="829" r="4.8"/></g>
<g id="b175" class="d"><circle cx="478" cy="690" r="4.8"/></g>
<g id="b176" class="d"><circle cx="545" cy="687" r="4.8"/></g>
<g id="b177" class="h"><circle cx="563" cy="687" r="4.8"/></g>
<g id="b178" class="d"><circle cx="524" cy="712" r="4.8"/></g>
<g id="b179" class="h"><circle cx="553" cy="719" r="4.8"/></g>
<g id="b181" class="k"><circle cx="593" cy="698" r="4.8"/></g>
<g id="b182" class="l"><circle cx="605" cy="705" r="4.8"/></g>
<g id="b183" class="l"><circle cx="574" cy="710" r="4.8"/></g>
<g id="b184" class="k"><circle cx="593" cy="715" r="4.8"/></g>
<g id="b185" class="l"><circle cx="600" cy="728" r="4.8"/></g>
<g id="b186" class="l"><circle cx="608" cy="737" r="4.8"/></g>
<g id="b187" class="k"><circle cx="589" cy="738" r="4.8"/></g>
<g id="b188" class="k"><circle cx="497" cy="726" r="4.8"/></g>
<g id="b189" class="k"><circle cx="504" cy="762" r="4.8"/></g>
<g id="b190" class="w"><circle cx="528" cy="742" r="4.8"/></g>
<g id="b191" class="k"><circle cx="561" cy="744" r="4.8"/></g>
<g id="b192" class="w"><circle cx="579" cy="752" r="4.8"/></g>
<g id="b193" class="l"><circle cx="571" cy="764" r="4.8"/></g>
<g id="b194" class="l"><circle cx="604" cy="764" r="4.8"/></g>
<g id="b195" class="h"><circle cx="600" cy="773" r="4.8"/></g>
<g id="b196" class="k"><circle cx="633" cy="767" r="4.8"/></g>
<g id="b197" class="d"><circle cx="604" cy="785" r="4.8"/></g>
<g id="b198" class="k"><circle cx="536" cy="784" r="4.8"/></g>
<g id="b199" class="k"><circle cx="561" cy="783" r="4.8"/></g>
<g id="b200" class="k"><circle cx="572" cy="784" r="4.8"/></g>
<g id="b201" class="k"><circle cx="518" cy="799" r="4.8"/></g>
<g id="b202" class="h"><circle cx="584" cy="802" r="4.8"/></g>
<g id="b203" class="h"><circle cx="575" cy="815" r="4.8"/></g>
<g id="b204" class="k"><circle cx="601" cy="808" r="4.8"/></g>
<g id="b205" class="k"><circle cx="596" cy="815" r="4.8"/></g>
<g id="b206" class="h"><circle cx="556" cy="819" r="4.8"/></g>
<g id="b207" class="h"><circle cx="528" cy="823" r="4.8"/></g>
<g id="b208" class="d"><circle cx="584" cy="828" r="4.8"/></g>
<g id="b209" class="l"><circle cx="505" cy="829" r="4.8"/></g>
<g id="b210" class="d"><circle cx="73" cy="836" r="4.8"/></g>
<g id="b211" class="h"><circle cx="80" cy="832" r="4.8"/></g>
<g id="b213" class="k"><circle cx="94" cy="852" r="4.8"/></g>
<g id="b214" class="h"><circle cx="92" cy="867" r="4.8"/></g>
<g id="b215" class="w"><circle cx="134" cy="848" r="4.8"/></g>
<g id="b216" class="w"><circle cx="121" cy="867" r="4.8"/></g>
<g id="b217" class="w"><circle cx="103" cy="873" r="4.8"/></g>
<g id="b218" class="k"><circle cx="151" cy="874" r="4.8"/></g>
<g id="b219" class="k"><circle cx="82" cy="888" r="4.8"/></g>
<g id="b220" class="h"><circle cx="113" cy="898" r="4.8"/></g>
<g id="b221" class="w"><circle cx="133" cy="903" r="4.8"/></g>
<g id="b222" class="k"><circle cx="134" cy="909" r="4.8"/></g>
<g id="b223" class="h"><circle cx="137" cy="921" r="4.8"/></g>
<g id="b224" class="k"><circle cx="157" cy="939" r="4.8"/></g>
<g id="b225" class="k"><circle cx="183" cy="931" r="4.8"/></g>
<g id="b226" class="k"><circle cx="200" cy="829" r="4.8"/></g>
<g id="b227" class="w"><circle cx="189" cy="854" r="4.8"/></g>
<g id="b228" class="w"><circle cx="171" cy="872" r="4.8"/></g>
<g id="b229" class="w"><circle cx="213" cy="867" r="4.8"/></g>
<g id="b230" class="w"><circle cx="201" cy="884" r="4.8"/></g>
<g id="b231" class="w"><circle cx="161" cy="890" r="4.8"/></g>
<g id="b232" class="w"><circle cx="226" cy="890" r="4.8"/></g>
<g id="b233" class="w"><circle cx="192" cy="905" r="4.8"/></g>
<g id="b234" class="w"><circle cx="169" cy="915" r="4.8"/></g>
<g id="b235" class="w"><circle cx="221" cy="911" r="4.8"/></g>
<g id="b236" class="k"><circle cx="237" cy="839" r="4.8"/></g>
<g id="b237" class="k"><circle cx="253" cy="863" r="4.8"/></g>
<g id="b238" class="k"><circle cx="277" cy="857" r="4.8"/></g>
<g id="b239" class="k"><circle cx="295" cy="871" r="4.8"/></g>
<g id="b240" class="k"><circle cx="242" cy="915" r="4.8"/></g>
<g id="b241" class="k"><circle cx="265" cy="920" r="4.8"/></g>
<g id="b242" class="k"><circle cx="216" cy="932" r="4.8"/></g>
<g id="b243" class="d"><circle cx="271" cy="937" r="4.8"/></g>
<g id="b244" class="l"><circle cx="236" cy="942" r="4.8"/></g>
<g id="b245" class="h"><circle cx="206" cy="944" r="4.8"/></g>
<g id="b246" class="h"><circle cx="226" cy="949" r="4.8"/></g>
<g id="b247" class="h"><circle cx="252" cy="954" r="4.8"/></g>
<g id="b248" class="k"><circle cx="273" cy="954" r="4.8"/></g>
<g id="b249" class="h"><circle cx="282" cy="962" r="4.8"/></g>
<g id="b250" class="l"><circle cx="287" cy="952" r="4.8"/></g>
<g id="b251" class="l"><circle cx="306" cy="952" r="4.8"/></g>
<g id="b252" class="k"><circle cx="304" cy="934" r="4.8"/></g>
<g id="b253" class="h"><circle cx="318" cy="964" r="4.8"/></g>
<g id="b254" class="k"><circle cx="396" cy="832" r="4.8"/></g>
<g id="b255" class="k"><circle cx="325" cy="846" r="4.8"/></g>
<g id="b256" class="k"><circle cx="351" cy="852" r="4.8"/></g>
<g id="b257" class="k"><circle cx="367" cy="849" r="4.8"/></g>
<g id="b258" class="k"><circle cx="329" cy="866" r="4.8"/></g>
<g id="b259" class="k"><circle cx="346" cy="901" r="4.8"/></g>
<g id="b260" class="k"><circle cx="369" cy="898" r="4.8"/></g>
<g id="b261" class="d"><circle cx="413" cy="877" r="4.8"/></g>
<g id="b262" class="h"><circle cx="462" cy="863" r="4.8"/></g>
<g id="b263" class="h"><circle cx="448" cy="884" r="4.8"/></g>
<g id="b264" class="l"><circle cx="445" cy="898" r="4.8"/></g>
<g id="b265" class="h"><circle cx="426" cy="908" r="4.8"/></g>
<g id="b266" class="h"><circle cx="402" cy="911" r="4.8"/></g>
<g id="b267" class="k"><circle cx="400" cy="932" r="4.8"/></g>
<g id="b268" class="k"><circle cx="384" cy="926" r="4.8"/></g>
<g id="b269" class="k"><circle cx="348" cy="926" r="4.8"/></g>
<g id="b270" class="l"><circle cx="400" cy="948" r="4.8"/></g>
<g id="b271" class="k"><circle cx="384" cy="955" r="4.8"/></g>
<g id="b272" class="k"><circle cx="381" cy="966" r="4.8"/></g>
<g id="b273" class="d"><circle cx="412" cy="956" r="4.8"/></g>
<g id="b274" class="h"><circle cx="438" cy="949" r="4.8"/></g>
<g id="b275" class="h"><circle cx="453" cy="943" r="4.8"/></g>
<g id="b276" class="l"><circle cx="464" cy="943" r="4.8"/></g>
<g id="b277" class="k"><circle cx="465" cy="926" r="4.8"/></g>
<g id="b278" class="d"><circle cx="476" cy="924" r="4.8"/></g>
<g id="b279" class="l"><circle cx="496" cy="921" r="4.8"/></g>
<g id="b280" class="l"><circle cx="433" cy="932" r="4.8"/></g>
<g id="b281" class="l"><circle cx="474" cy="908" r="4.8"/></g>
<g id="b282" class="k"><circle cx="512" cy="907" r="4.8"/></g>
<g id="b283" class="h"><circle cx="513" cy="917" r="4.8"/></g>
<g id="b284" class="k"><circle cx="496" cy="892" r="4.8"/></g>
<g id="b285" class="d"><circle cx="492" cy="881" r="4.8"/></g>
<g id="b286" class="k"><circle cx="536" cy="871" r="4.8"/></g>
<g id="b287" class="h"><circle cx="528" cy="883" r="4.8"/></g>
<g id="b288" class="d"><circle cx="544" cy="891" r="4.8"/></g>
<g id="b289" class="l"><circle cx="530" cy="904" r="4.8"/></g>
<g id="b290" class="h"><circle cx="560" cy="869" r="4.8"/></g>
<g id="b291" class="l"><circle cx="563" cy="877" r="4.8"/></g>
<g id="b292" class="l"><circle cx="505" cy="830" r="4.8"/></g>
<g id="b293" class="l"><circle cx="510" cy="850" r="4.8"/></g>
<g id="b294" class="l"><circle cx="505" cy="863" r="4.8"/></g>
<g id="b295" class="h"><circle cx="553" cy="839" r="4.8"/></g>
<g id="b296" class="l"><circle cx="559" cy="856" r="4.8"/></g>
<g id="b298" class="d"><circle cx="584" cy="831" r="4.8"/></g>
<g id="b299" class="g"><circle cx="577" cy="845" r="4.8"/></g>
<g id="b300" class="k"><circle cx="584" cy="849" r="4.8"/></g>
<g id="b301" class="k"><circle cx="326" cy="946" r="4.8"/></g>
<g id="b302" class="l"><circle cx="356" cy="942" r="4.8"/></g>
<g id="b303" class="d"><circle cx="350" cy="956" r="4.8"/></g>
<g id="b304" class="k"><circle cx="330" cy="966" r="4.8"/></g>
<g id="b305" class="h"><circle cx="363" cy="964" r="4.8"/></g>
</g>
</svg>
